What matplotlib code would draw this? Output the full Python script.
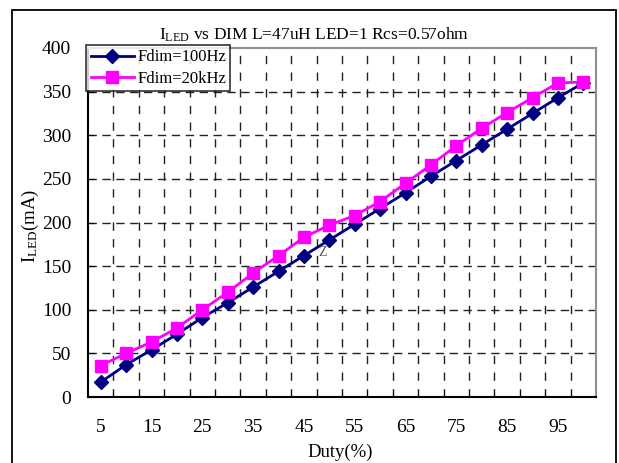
import matplotlib
matplotlib.use("Agg")
import matplotlib.pyplot as plt
from matplotlib.patches import Rectangle
import numpy as np

duty = [5, 10, 15, 20, 25, 30, 35, 40, 45, 50, 55, 60, 65, 70, 75, 80, 85, 90, 95, 100]
i_100hz = [17, 37, 54, 72, 91, 108, 126, 144, 162, 180, 198, 216, 234, 253, 271, 289, 307, 325, 343, 360]
i_20khz = [36, 50, 63, 79, 100, 120, 142, 162, 183, 197, 208, 224, 245, 266, 288, 308, 326, 343, 360, 361]
yticks = [0, 50, 100, 150, 200, 250, 300, 350, 400]
xtick_labels = ["5", "15", "25", "35", "45", "55", "65", "75", "85", "95"]

FONT = "Liberation Serif"
plt.rcParams['font.family'] = [FONT, 'DejaVu Serif']
plt.rcParams['mathtext.fontset'] = 'custom'
plt.rcParams['mathtext.rm'] = FONT
plt.rcParams['mathtext.it'] = FONT

W, H = 619, 463
fig = plt.figure(figsize=(W / 100, H / 100), dpi=100)
ax = fig.add_axes([88 / W, 1 - 397 / H, (596 - 88) / W, (397 - 48) / H])

# figure frame
fig.patches.append(Rectangle((12 / W, -0.05), (616 - 12) / W, 1.05 - 10 / H,
                             transform=fig.transFigure, fill=False,
                             edgecolor='black', linewidth=1.3))

x = np.arange(len(duty))
ax.plot(x, i_100hz, color='#000080', lw=2, marker='D', ms=7.5,
        label='Fdim=100Hz', zorder=3)
ax.plot(x, i_20khz, color='#FF00FF', lw=2, marker='s', ms=9,
        label='Fdim=20kHz', zorder=3)

ax.set_xlim(-0.5, len(duty) - 0.5)
ax.set_ylim(0, 400)
ax.set_yticks(yticks)
ax.set_xticks(x[::2])
ax.set_xticklabels(xtick_labels)
ax.set_xticks(np.arange(0.5, len(duty) - 0.5, 1), minor=True)

ax.grid(False)
for yv in yticks[1:-1]:
    ax.axhline(yv, color='#222222', lw=1, ls=(0, (6, 4)), zorder=1)
for xv in np.arange(0.5, len(duty) - 0.5, 1):
    ax.axvline(xv, color='#222222', lw=1, ls=(0, (6, 6)), zorder=1)

ax.tick_params(axis='x', which='major', length=0, pad=16, labelsize=14)
ax.tick_params(axis='x', which='minor', length=4, direction='in')
ax.tick_params(axis='y', which='major', length=4, direction='in', pad=12, labelsize=14)

for s in ['left', 'bottom']:
    ax.spines[s].set_color('black')
    ax.spines[s].set_linewidth(1.5)
for s in ['top', 'right']:
    ax.spines[s].set_color('#909090')
    ax.spines[s].set_linewidth(1.5)

fig.text(314 / W, 1 - 35 / H, r'I$_{\mathrm{LED}}$ vs DIM L=47uH LED=1 Rcs=0.57ohm',
         ha='center', va='center', fontsize=12.5)
fig.text(340 / W, 1 - 452 / H, 'Duty(%)', ha='center', va='center', fontsize=13.5)
fig.text(30 / W, 1 - 226 / H, r'I$_{\mathrm{LED}}$(mA)', ha='center', va='center',
         rotation=90, fontsize=13.5)
fig.text(323 / W, 1 - 252 / H, 'Z', ha='center', va='center', fontsize=10, color='#555555')

leg = ax.legend(loc='upper left', bbox_to_anchor=(-0.003, 1.008), frameon=True,
                fancybox=False, edgecolor='black', fontsize=12, borderpad=0.25,
                handlelength=2.6, handletextpad=0.2, labelspacing=0.35,
                borderaxespad=0)
leg.get_frame().set_linewidth(1.2)
leg.set_zorder(5)

fig.savefig('out.png', dpi=100)
